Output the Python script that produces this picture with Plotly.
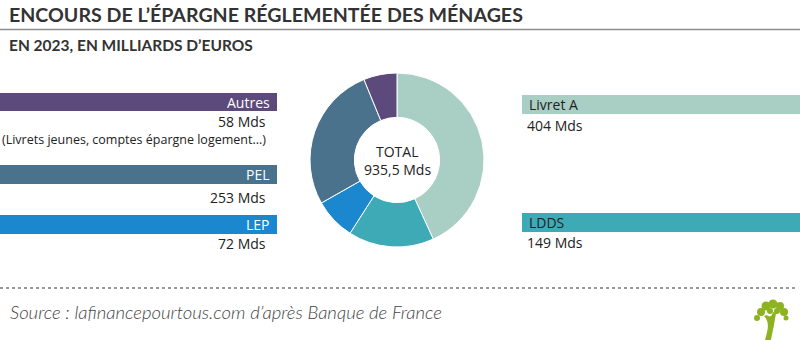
import plotly.graph_objects as go

# Data
categories = ["Livret A", "LDDS", "LEP", "PEL", "Autres"]
values = [404, 149, 72, 253, 58]
value_labels = ["404 Mds", "149 Mds", "72 Mds", "253 Mds", "58 Mds"]
colors = ["#a9cec4", "#3eaab5", "#1a87cf", "#4a728c", "#5b4a7b"]
total_label = "935,5 Mds"
autres_note = "(Livrets jeunes, comptes épargne logement...)"

W, H = 800, 340
def py(p):  # pixel-from-top -> paper y
    return 1 - p / H
def px(p):
    return p / W

fig = go.Figure()
fig.add_trace(go.Pie(
    labels=categories, values=values, sort=False, direction="clockwise",
    rotation=0, hole=0.49, textinfo="none", hoverinfo="label+value",
    marker=dict(colors=colors, line=dict(color="white", width=1)),
    domain=dict(x=[px(310), px(484)], y=[py(247), py(73)]),
    showlegend=False,
))

shapes = []
annotations = []
FONT = "Open Sans"
HEAD = "Lato"

# Title / subtitle
annotations.append(dict(x=px(7), y=py(15), xref="paper", yref="paper", xanchor="left", yanchor="middle",
                        text="<b>ENCOURS DE L’ÉPARGNE RÉGLEMENTÉE DES MÉNAGES</b>", showarrow=False,
                        font=dict(family=HEAD, size=19.6, color="#333333")))
shapes.append(dict(type="line", xref="paper", yref="paper", x0=0, x1=1, y0=py(29.5), y1=py(29.5),
                   line=dict(color="#8c8c8c", width=1.5)))
annotations.append(dict(x=px(7), y=py(45), xref="paper", yref="paper", xanchor="left", yanchor="middle",
                        text="<b>EN 2023, EN MILLIARDS D’EUROS</b>", showarrow=False,
                        font=dict(family=HEAD, size=15.5, color="#333333")))

# Label bars: (side, bar top, bar bottom, value y, text color)
layout_bars = {
    "Autres": ("left", 93, 111, 121, "white"),
    "PEL": ("left", 165, 184, 197, "white"),
    "LEP": ("left", 215, 234, 243, "white"),
    "Livret A": ("right", 95, 114, 125, "#222222"),
    "LDDS": ("right", 213, 232, 242, "#222222"),
}
for i, cat in enumerate(categories):
    side, y0, y1, vy, tc = layout_bars[cat]
    if side == "left":
        x0, x1, tx, anchor = 0, 277, 272, "right"
        vx = 268
    else:
        x0, x1, tx, anchor = 522, 800, 527, "left"
        vx = 525
    shapes.append(dict(type="rect", xref="paper", yref="paper", x0=px(x0), x1=px(x1), y0=py(y1), y1=py(y0),
                       fillcolor=colors[i], line=dict(width=0), layer="below"))
    annotations.append(dict(x=px(tx), y=py((y0 + y1) / 2), xref="paper", yref="paper", xanchor=anchor,
                            yanchor="middle", text=cat, showarrow=False,
                            font=dict(family=FONT, size=14, color=tc)))
    annotations.append(dict(x=px(vx), y=py(vy), xref="paper", yref="paper", xanchor=anchor,
                            yanchor="middle", text=value_labels[i], showarrow=False,
                            font=dict(family=FONT, size=14, color="#222222")))

annotations.append(dict(x=px(268), y=py(139), xref="paper", yref="paper", xanchor="right", yanchor="middle",
                        text=autres_note, showarrow=False, font=dict(family=FONT, size=12.5, color="#222222")))

# Center total
annotations.append(dict(x=px(397), y=py(151), xref="paper", yref="paper", xanchor="center", yanchor="middle",
                        text="TOTAL", showarrow=False, font=dict(family=FONT, size=14, color="#222222")))
annotations.append(dict(x=px(397), y=py(169), xref="paper", yref="paper", xanchor="center", yanchor="middle",
                        text=total_label, showarrow=False, font=dict(family=FONT, size=14, color="#222222")))

# Footer
shapes.append(dict(type="line", xref="paper", yref="paper", x0=0, x1=px(797), y0=py(288), y1=py(288),
                   line=dict(color="#777777", width=1.5, dash="dot")))
annotations.append(dict(x=px(8), y=py(312), xref="paper", yref="paper", xanchor="left", yanchor="middle",
                        text="<i>Source : lafinancepourtous.com d’après Banque de France</i>", showarrow=False,
                        font=dict(family="Lato", size=18.5, color="#444444", weight=300)))

# Small tree logo
g = "#8db320"
shapes.append(dict(type="path", xref="paper", yref="paper",
                   path=(f"M {px(765)} {py(340)} C {px(768)} {py(330)} {px(770)} {py(322)} {px(764)} {py(316)} "
                         f"L {px(767)} {py(315)} C {px(770)} {py(318)} {px(772)} {py(316)} {px(773)} {py(312)} "
                         f"L {px(776)} {py(313)} C {px(775)} {py(320)} {px(773)} {py(330)} {px(771)} {py(340)} Z"),
                   fillcolor=g, line=dict(width=0)))
for cx, cy, r in [(761, 312, 4), (766, 306, 4.5), (773, 304, 4.5), (780, 306, 4), (784, 312, 4),
                  (770, 311, 3), (777, 311, 3), (757, 318, 3), (786, 318, 2.5)]:
    shapes.append(dict(type="circle", xref="paper", yref="paper", x0=px(cx - r), x1=px(cx + r),
                       y0=py(cy + r), y1=py(cy - r), fillcolor=g, line=dict(width=0)))

fig.update_layout(width=W, height=H, margin=dict(l=0, r=0, t=0, b=0),
                  paper_bgcolor="white", plot_bgcolor="white",
                  shapes=shapes, annotations=annotations)
fig.write_html("out.html")
